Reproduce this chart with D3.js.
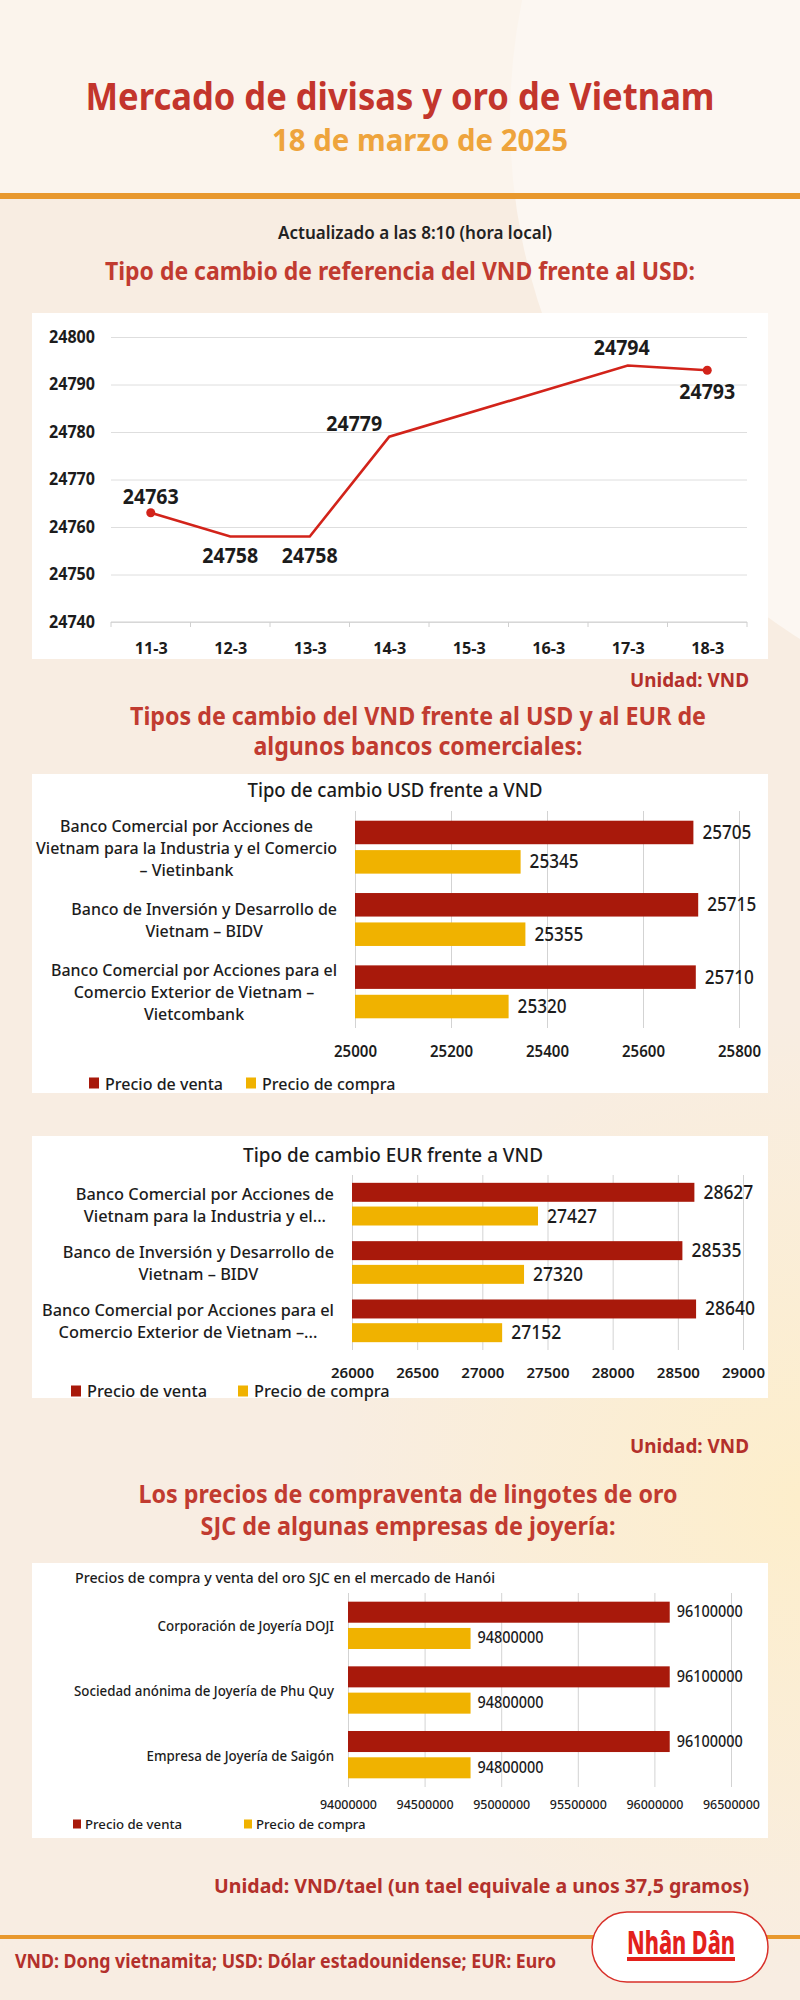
<!DOCTYPE html>
<html lang="es">
<head>
<meta charset="utf-8">
<title>Mercado de divisas y oro de Vietnam</title>
<script src="https://cdn.jsdelivr.net/npm/d3@7"></script>
<style>
  body { margin: 0; background: #f8ede2; }
  svg { display: block; }
</style>
</head>
<body>
<svg id="chart" width="800" height="2000"></svg>
<script>
// ---- data ----
const refDays = ["11-3", "12-3", "13-3", "14-3", "15-3", "16-3", "17-3", "18-3"];
const refRate = [24763, 24758, 24758, 24779, null, null, 24794, 24793];
const refTicks = [24740, 24750, 24760, 24770, 24780, 24790, 24800];
const refLabelBelow = ["12-3", "13-3", "18-3"];

const seriesNames = ["Precio de venta", "Precio de compra"];

const usdBanks = [
  ["Banco Comercial por Acciones de", "Vietnam para la Industria y el Comercio", "– Vietinbank"],
  ["Banco de Inversión y Desarrollo de", "Vietnam – BIDV"],
  ["Banco Comercial por Acciones para el", "Comercio Exterior de Vietnam –", "Vietcombank"]
];
const usdSell = [25705, 25715, 25710];
const usdBuy = [25345, 25355, 25320];
const usdTicks = [25000, 25200, 25400, 25600, 25800];

const eurBanks = [
  ["Banco Comercial por Acciones de", "Vietnam para la Industria y el..."],
  ["Banco de Inversión y Desarrollo de", "Vietnam – BIDV"],
  ["Banco Comercial por Acciones para el", "Comercio Exterior de Vietnam –..."]
];
const eurSell = [28627, 28535, 28640];
const eurBuy = [27427, 27320, 27152];
const eurTicks = [26000, 26500, 27000, 27500, 28000, 28500, 29000];

const goldFirms = [
  ["Corporación de Joyería DOJI"],
  ["Sociedad anónima de Joyería de Phu Quy"],
  ["Empresa de Joyería de Saigón"]
];
const goldSell = [96100000, 96100000, 96100000];
const goldBuy = [94800000, 94800000, 94800000];
const goldTicks = [94000000, 94500000, 95000000, 95500000, 96000000, 96500000];

// ---- helpers ----
const FONT = "'Noto Sans', 'Open Sans', sans-serif";
const RED = "#a8190b", GOLD = "#f0b200", INK = "#1c1c1c";
const svg = d3.select("#chart");

function measure(s, size, weight) {
  const t = svg.append("text").attr("font-family", FONT).attr("font-size", size)
    .attr("font-weight", weight).text(s);
  const L = t.node().getComputedTextLength();
  t.remove();
  return L;
}
// squeeze texts so they come out as narrow as the condensed fonts of the original
function squash(sel, k) {
  sel.each(function () {
    const L = this.getComputedTextLength();
    this.setAttribute("textLength", L * k);
    this.setAttribute("lengthAdjust", "spacingAndGlyphs");
  });
}
function txt(g, x, y, s, o) {
  const t = g.append("text").attr("x", x).attr("y", y).text(s)
    .attr("font-family", FONT).attr("font-size", o.size)
    .attr("font-weight", o.weight || 400)
    .attr("fill", o.fill || INK)
    .attr("text-anchor", o.anchor || "start");
  if (o.mid) t.attr("dominant-baseline", "central");
  if (o.w) t.attr("textLength", o.w).attr("lengthAdjust", "spacingAndGlyphs");
  else if (o.k) squash(t, o.k);
  return t;
}

// ---- background ----
const defs = svg.append("defs");
const glow = defs.append("radialGradient").attr("id", "glow");
glow.append("stop").attr("offset", "0%").attr("stop-color", "#fdeecb");
glow.append("stop").attr("offset", "100%").attr("stop-color", "#fdeecb").attr("stop-opacity", 0);
svg.append("rect").attr("width", 800).attr("height", 2000).attr("fill", "#f8ede2");
svg.append("rect").attr("width", 800).attr("height", 196).attr("fill", "#fbf4ec");
svg.append("ellipse").attr("cx", 1150).attr("cy", 120).attr("rx", 640).attr("ry", 620).attr("fill", "#fcf7f2");
svg.append("circle").attr("cx", 800).attr("cy", 1500).attr("r", 480).attr("fill", "url(#glow)");

// ---- header ----
txt(svg, 400, 110, "Mercado de divisas y oro de Vietnam", { size: 38, weight: 700, fill: "#c3352c", anchor: "middle", w: 629 });
txt(svg, 420, 151, "18 de marzo de 2025", { size: 30, weight: 700, fill: "#eea43c", anchor: "middle", w: 296 });
svg.append("rect").attr("x", 0).attr("y", 193).attr("width", 800).attr("height", 6).attr("fill", "#e8982d");
txt(svg, 415, 239, "Actualizado a las 8:10 (hora local)", { size: 17, weight: 600, fill: "#222", anchor: "middle", w: 274 });
txt(svg, 400, 280, "Tipo de cambio de referencia del VND frente al USD:", { size: 25, weight: 700, fill: "#c13b30", anchor: "middle", w: 590 });

// ---- reference rate line chart ----
svg.append("rect").attr("x", 32).attr("y", 313).attr("width", 736).attr("height", 346).attr("fill", "#fff");
const lx = d3.scalePoint().domain(refDays).range([111, 747]).padding(0.5);
const lxb = d3.scaleBand().domain(refDays).range([111, 747]);
const ly = d3.scaleLinear().domain([24740, 24800]).range([622, 337]);

const yAx = svg.append("g").attr("transform", "translate(111,0)")
  .call(d3.axisLeft(ly).tickValues(refTicks).tickSize(-636).tickPadding(16).tickFormat(d3.format("d")));
yAx.select(".domain").remove();
yAx.selectAll(".tick line").attr("stroke", "#dedede");
yAx.selectAll(".tick text").attr("font-family", FONT).attr("font-size", 17).attr("font-weight", 700).attr("fill", INK);
squash(yAx.selectAll(".tick text"), 46 / measure("24800", 17, 700));

// baseline with small ticks between the days
svg.append("line").attr("x1", 111).attr("x2", 747).attr("y1", 622).attr("y2", 622).attr("stroke", "#d0d0d0");
svg.append("g").selectAll("line").data(refDays.concat(["end"])).join("line")
  .attr("x1", d => d === "end" ? 747 : lxb(d)).attr("x2", d => d === "end" ? 747 : lxb(d))
  .attr("y1", 622).attr("y2", 627).attr("stroke", "#d0d0d0");

const xAx = svg.append("g").attr("transform", "translate(0,622)")
  .call(d3.axisBottom(lx).tickSize(0).tickPadding(21));
xAx.select(".domain").remove();
xAx.selectAll(".tick text").attr("font-family", FONT).attr("font-size", 16).attr("font-weight", 700).attr("fill", INK);
squash(xAx.selectAll(".tick text"), 33 / measure("11-3", 16, 700));

const refPts = refDays.map((d, i) => ({ d, v: refRate[i] })).filter(p => p.v !== null);
svg.append("path").datum(refPts)
  .attr("d", d3.line().x(p => lx(p.d)).y(p => ly(p.v)))
  .attr("fill", "none").attr("stroke", "#d2231a").attr("stroke-width", 2.6);
svg.append("g").selectAll("circle").data([refPts[0], refPts[refPts.length - 1]]).join("circle")
  .attr("cx", p => lx(p.d)).attr("cy", p => ly(p.v)).attr("r", 4.5).attr("fill", "#d2231a");

const kVal = 56 / measure("24763", 22, 700);
refPts.forEach(p => {
  const below = refLabelBelow.includes(p.d);
  let x = lx(p.d), y = ly(p.v) + (below ? 17 : -18);
  if (p.d === "14-3") { x -= 35; y += 3; }
  if (p.d === "17-3") { x -= 6; y -= 2; }
  if (p.d === "18-3") { y += 3; }
  txt(svg, x, y, d3.format("d")(p.v), { size: 22, weight: 700, anchor: "middle", mid: true, k: kVal });
});

txt(svg, 749, 687, "Unidad: VND", { size: 20, weight: 700, fill: "#b3302b", anchor: "end", w: 119 });

// ---- commercial banks ----
txt(svg, 418, 725, "Tipos de cambio del VND frente al USD y al EUR de", { size: 25, weight: 700, fill: "#c13b30", anchor: "middle", w: 576 });
txt(svg, 418, 755, "algunos bancos comerciales:", { size: 25, weight: 700, fill: "#c13b30", anchor: "middle", w: 329 });

function barChart(c) {
  const g = svg.append("g");
  g.append("rect").attr("x", 32).attr("y", c.top).attr("width", 736).attr("height", c.bottom - c.top).attr("fill", "#fff");
  const x = d3.scaleLinear().domain(c.domain).range(c.xr);
  const y = d3.scaleBand().domain(d3.range(c.sell.length)).range(c.yr);
  const ys = d3.scaleBand().domain([0, 1]).range([0, y.bandwidth()]).paddingInner(0.2).paddingOuter(0.33);

  // vertical grid
  const grid = g.append("g").attr("transform", `translate(0,${c.yr[1]})`)
    .call(d3.axisBottom(x).tickValues(c.ticks).tickSize(-(c.yr[1] - c.yr[0])).tickPadding(c.tickPad).tickFormat(d3.format("d")));
  grid.select(".domain").remove();
  grid.selectAll(".tick line").attr("stroke", "#d3d3d3");
  grid.selectAll(".tick text").attr("font-family", FONT).attr("font-size", c.tickSize).attr("font-weight", c.tickWeight).attr("fill", INK);
  squash(grid.selectAll(".tick text"), c.tickW / measure(String(c.ticks[0]), c.tickSize, c.tickWeight));

  const rows = c.sell.map((s, i) => ({ i, vals: [s, c.buy[i]] }));
  const row = g.selectAll(".row").data(rows).join("g").attr("transform", r => `translate(0,${y(r.i)})`);
  row.selectAll("rect").data(r => r.vals.map((v, j) => ({ v, j }))).join("rect")
    .attr("x", x(c.domain[0])).attr("y", b => ys(b.j))
    .attr("width", b => x(b.v) - x(c.domain[0])).attr("height", ys.bandwidth())
    .attr("fill", b => b.j === 0 ? RED : GOLD);

  const kV = c.valW / measure(String(c.sell[0]), c.valSize, 500);
  rows.forEach(r => r.vals.forEach((v, j) => {
    txt(g, x(v) + c.valGap, y(r.i) + ys(j) + ys.bandwidth() / 2 - 1, d3.format("d")(v),
      { size: c.valSize, weight: 500, mid: true, k: kV });
  }));

  // category labels: lines centred inside a block that is right aligned
  const kL = c.labW / measure(c.labRef, c.labSize, 500);
  c.labels.forEach((lines, i) => {
    const wMax = d3.max(lines, s => measure(s, c.labSize, 500) * kL);
    const cx = c.labRight - wMax / 2;
    const cy = y(i) + y.bandwidth() / 2;
    lines.forEach((s, n) => {
      txt(g, cx, cy + (n - (lines.length - 1) / 2) * c.lineH, s, { size: c.labSize, weight: 500, anchor: "middle", mid: true, k: kL });
    });
  });

  txt(g, c.titleX, c.titleY, c.title, { size: c.titleSize, weight: 500, anchor: c.titleAnchor, mid: true, w: c.titleW });

  const kG = c.legW / measure(seriesNames[0], c.legSize, 500);
  seriesNames.forEach((s, j) => {
    g.append("rect").attr("x", c.legX[j]).attr("y", c.legY - c.sq / 2 - 0.5).attr("width", c.sq).attr("height", c.sq + 1)
      .attr("fill", j === 0 ? RED : GOLD);
    txt(g, c.legX[j] + c.sq + c.legGap, c.legY, s, { size: c.legSize, weight: 500, mid: true, k: kG });
  });
}

barChart({
  top: 774, bottom: 1093, domain: [25000, 25800], xr: [355, 739], yr: [811, 1028],
  ticks: usdTicks, tickPad: 18, tickSize: 16, tickWeight: 600, tickW: 43,
  sell: usdSell, buy: usdBuy, valSize: 20, valW: 49, valGap: 9,
  labels: usdBanks, labRef: "Vietnam para la Industria y el Comercio", labW: 301, labSize: 17, labRight: 337, lineH: 22,
  title: "Tipo de cambio USD frente a VND", titleX: 395, titleY: 790, titleSize: 19, titleAnchor: "middle", titleW: 295,
  legX: [89, 246], legY: 1083, sq: 10, legGap: 6, legSize: 17, legW: 118
});

barChart({
  top: 1136, bottom: 1398, domain: [26000, 29000], xr: [352, 743], yr: [1175, 1350],
  ticks: eurTicks, tickPad: 17, tickSize: 15, tickWeight: 600, tickW: 43,
  sell: eurSell, buy: eurBuy, valSize: 20, valW: 50, valGap: 9,
  labels: eurBanks, labRef: "Banco Comercial por Acciones para el", labW: 292, labSize: 17, labRight: 334, lineH: 22,
  title: "Tipo de cambio EUR frente a VND", titleX: 393, titleY: 1155, titleSize: 19, titleAnchor: "middle", titleW: 300,
  legX: [71, 238], legY: 1391, sq: 10, legGap: 6, legSize: 16, legW: 120
});

txt(svg, 749, 1453, "Unidad: VND", { size: 20, weight: 700, fill: "#b3302b", anchor: "end", w: 119 });

// ---- SJC gold ----
txt(svg, 408, 1503, "Los precios de compraventa de lingotes de oro", { size: 25, weight: 700, fill: "#c13b30", anchor: "middle", w: 539 });
txt(svg, 408, 1535, "SJC de algunas empresas de joyería:", { size: 25, weight: 700, fill: "#c13b30", anchor: "middle", w: 415 });

barChart({
  top: 1563, bottom: 1838, domain: [94000000, 96500000], xr: [348, 731], yr: [1593, 1787],
  ticks: goldTicks, tickPad: 13, tickSize: 13, tickWeight: 500, tickW: 57,
  sell: goldSell, buy: goldBuy, valSize: 16, valW: 66, valGap: 7,
  labels: goldFirms, labRef: "Sociedad anónima de Joyería de Phu Quy", labW: 260, labSize: 15, labRight: 334, lineH: 20,
  title: "Precios de compra y venta del oro SJC en el mercado de Hanói", titleX: 75, titleY: 1577, titleSize: 14, titleAnchor: "start", titleW: 420,
  legX: [73, 244], legY: 1824, sq: 8, legGap: 4, legSize: 13, legW: 97
});

txt(svg, 749, 1893, "Unidad: VND/tael (un tael equivale a unos 37,5 gramos)", { size: 20, weight: 700, fill: "#b3302b", anchor: "end", w: 535 });

// ---- footer ----
svg.append("rect").attr("x", 0).attr("y", 1935).attr("width", 800).attr("height", 4).attr("fill", "#e8982d");
txt(svg, 15, 1968, "VND: Dong vietnamita; USD: Dólar estadounidense; EUR: Euro", { size: 19, weight: 700, fill: "#b3302b", w: 541 });
svg.append("rect").attr("x", 592).attr("y", 1912).attr("width", 176).attr("height", 70).attr("rx", 35)
  .attr("fill", "#fff").attr("stroke", "#d8302a").attr("stroke-width", 1.5);
txt(svg, 681, 1954, "Nhân Dân", { size: 32, weight: 800, fill: "#e3211c", anchor: "middle", w: 108 });
svg.append("rect").attr("x", 627).attr("y", 1957).attr("width", 108).attr("height", 4).attr("fill", "#e3211c");
</script>
</body>
</html>
